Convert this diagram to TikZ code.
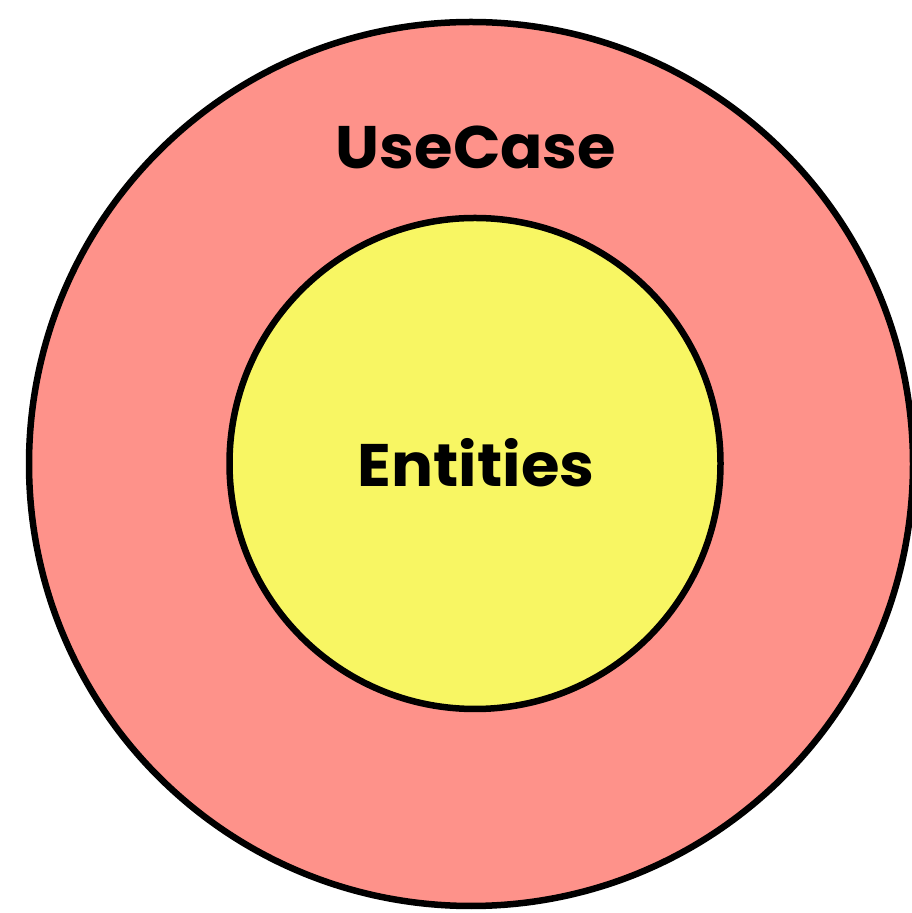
\documentclass[tikz,border=0pt]{standalone}
\usepackage{fontspec}
\setmainfont{Poppins}[BoldFont={* Bold}]
\definecolor{usecasefill}{HTML}{FE928A}
\definecolor{entityfill}{HTML}{F8F663}
\begin{document}
\begin{tikzpicture}[x=1pt,y=1pt,
  ring/.style={circle, draw=black, line width=6.5pt, inner sep=0pt},
  caption/.style={font=\fontsize{60}{64}\selectfont\bfseries, inner sep=0pt, anchor=base, xscale=1.04}]
  \useasboundingbox (0,0) rectangle (912,913);
  % outer layer
  \node[ring, fill=usecasefill, minimum size=884pt] (usecase) at (471,449) {};
  % inner layer
  \node[ring, fill=entityfill, minimum size=491pt] (entities) at (475,449.5) {};
  % labels
  \node[caption] (usecaselabel) at (476,744) {UseCase};
  \node[caption] (entitieslabel) at (476,426) {Entities};
\end{tikzpicture}
\end{document}
